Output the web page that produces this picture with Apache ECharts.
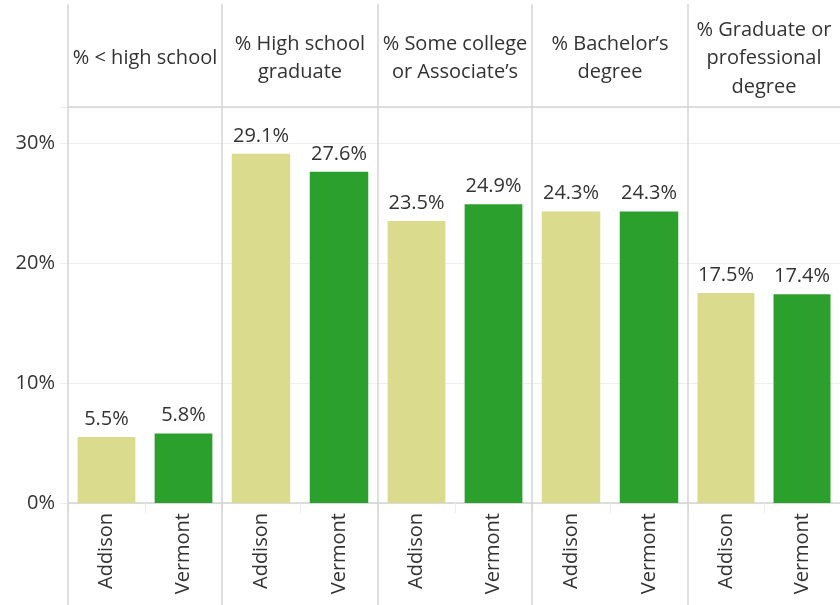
<!DOCTYPE html>
<html><head><meta charset="utf-8">
<script src="https://cdn.jsdelivr.net/npm/echarts@6/dist/echarts.min.js"></script>
<style>html,body{margin:0;padding:0;background:#fff}#c{width:840px;height:605px}</style>
</head><body><div id="c"></div>
<script>
const categories = ['Addison', 'Vermont'];
const groups = ['% < high school', '% High school\ngraduate', '% Some college\nor Associate\u2019s', '% Bachelor\u2019s\ndegree', '% Graduate or\nprofessional\ndegree'];
const addison = [5.5, 29.1, 23.5, 24.3, 17.5];
const vermont = [5.8, 27.6, 24.9, 24.3, 17.4];
const yTicks = [0, 10, 20, 30];

const colorA = '#dbdb8d', colorV = '#2ca02c';
const FONT = '"Open Sans"';
const FS = 20;
const TXT = '#333333';
const LINE = '#d4d4d4';
const edges = [68, 222, 378, 532, 688, 840];
const TOP = 107, BOTTOM = 102;

const grids = [], xAxes = [], yAxes = [], series = [], graphics = [];
for (let i = 0; i < groups.length; i++) {
  const left = edges[i], width = edges[i + 1] - edges[i];
  grids.push({ left: left, width: width, top: TOP, bottom: BOTTOM, containLabel: false });
  xAxes.push({
    type: 'category', gridIndex: i, data: categories,
    axisLine: { show: true, lineStyle: { color: LINE, width: 1.5 } },
    axisTick: { show: true, length: 10, lineStyle: { color: '#ececec' } },
    axisLabel: { rotate: 90, margin: 10, fontSize: FS, fontFamily: FONT, color: TXT }
  });
  yAxes.push({
    type: 'value', gridIndex: i, min: 0, max: 33, interval: 10,
    axisLine: { show: false },
    axisTick: { show: i === 0, length: 8, lineStyle: { color: '#ececec' } },
    axisLabel: {
      show: i === 0, margin: 13, fontSize: FS, fontFamily: FONT, color: TXT,
      formatter: v => yTicks.indexOf(v) >= 0 ? v + '%' : ''
    },
    splitLine: { show: true, lineStyle: { color: '#efefef', width: 1 } }
  });
  series.push({
    type: 'bar', xAxisIndex: i, yAxisIndex: i, barWidth: '75%',
    data: [
      { value: addison[i], itemStyle: { color: colorA } },
      { value: vermont[i], itemStyle: { color: colorV } }
    ],
    label: {
      show: true, position: 'top', distance: 8, fontSize: FS, fontFamily: FONT, color: TXT,
      formatter: p => p.value.toFixed(1) + '%'
    },
    animation: false
  });
  graphics.push({
    type: 'text', x: left + width / 2, y: 58.5, z: 20,
    style: { text: groups[i], font: FS + 'px ' + FONT, fill: TXT, textAlign: 'center', textVerticalAlign: 'middle', lineHeight: 28.5 }
  });
}
for (let i = 0; i < edges.length - 1; i++) {
  graphics.push({ type: 'line', shape: { x1: edges[i], y1: 4, x2: edges[i], y2: 605 }, style: { stroke: LINE, lineWidth: 1.5 }, z: 10 });
}
graphics.push({ type: 'line', shape: { x1: 68, y1: TOP, x2: 840, y2: TOP }, style: { stroke: LINE, lineWidth: 1.5 }, z: 10 });

const chart = echarts.init(document.getElementById('c'), null, { renderer: 'canvas' });
chart.setOption({
  animation: false,
  grid: grids, xAxis: xAxes, yAxis: yAxes, series: series,
  graphic: graphics
});
</script></body></html>
